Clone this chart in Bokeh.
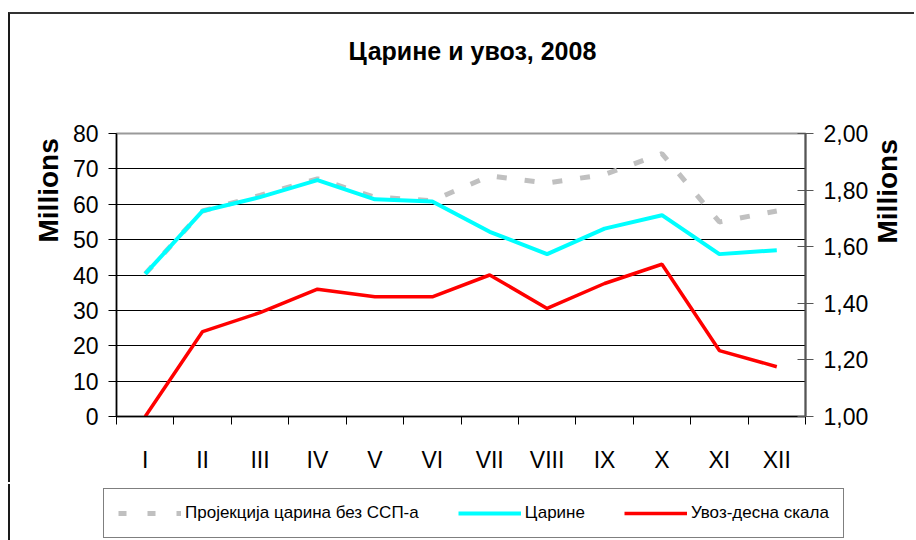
from bokeh.plotting import figure
from bokeh.models import (LinearAxis, Range1d, FixedTicker, CustomJSTickFormatter,
                          Legend, LegendItem, ColumnDataSource, Title)
from bokeh.embed import file_html
from bokeh.resources import INLINE

# ---- data ----
months = ["I", "II", "III", "IV", "V", "VI", "VII", "VIII", "IX", "X", "XI", "XII"]
carine = [40.3, 58.1, 62.0, 66.8, 61.4, 60.8, 52.2, 45.9, 53.1, 56.9, 45.9, 47.0]
projekcija = [40.3, 58.1, 62.5, 67.2, 62.0, 61.0, 68.0, 66.0, 68.4, 74.3, 55.0, 58.1]
uvoz = [1.00, 1.30, 1.367, 1.45, 1.423, 1.423, 1.50, 1.382, 1.47, 1.538, 1.233, 1.176]
left_ticks = [0, 10, 20, 30, 40, 50, 60, 70, 80]
grid_ticks = [10, 20, 30, 40, 50, 60, 70]
right_ticks = [1.0, 1.2, 1.4, 1.6, 1.8, 2.0]
title_text = "Царине и увоз, 2008"
axis_text = "Millions"
legend_labels = ["Пројекција царина без ССП-а", "Царине", "Увоз-десна скала"]

FONT = "Liberation Sans"
GREY, CYAN, RED = "#c0c0c0", "#00ffff", "#ff0000"

n = len(months)
xs = [i + 0.5 for i in range(n)]
bounds = [i for i in range(n + 1)]

src = ColumnDataSource(dict(x=xs, carine=carine, projekcija=projekcija, uvoz=uvoz))

p = figure(width=906, height=470, x_range=Range1d(0, n), y_range=Range1d(0, 80),
           output_backend="svg", toolbar_location=None, title=title_text,
           min_border_left=106, min_border_right=111, min_border_top=119,
           min_border_bottom=68)
p.styles = {"margin-top": "12px", "margin-left": "8px",
            "border-top": "2px solid #333333", "border-left": "2px solid #1a1a1a"}
p.background_fill_color = "white"
p.border_fill_color = "white"
p.outline_line_color = "#9a9a9a"
p.outline_line_width = 2

p.title.text_font = FONT
p.title.text_font_size = "25px"
p.title.text_font_style = "bold"
p.title.text_color = "black"
p.title.align = "left"
p.title.offset = 232
p.title.standoff = 10

# spacer between frame and title
p.add_layout(Title(text=" ", text_font_size="10px", standoff=51), "above")

p.extra_y_ranges = {"uvoz": Range1d(1.0, 2.0)}

# grid
p.xgrid.visible = False
p.ygrid.ticker = FixedTicker(ticks=grid_ticks)
p.ygrid.grid_line_color = "black"
p.ygrid.grid_line_width = 1

# x axis
xa = p.xaxis[0]
xa.ticker = FixedTicker(ticks=xs, minor_ticks=bounds)
xa.major_label_overrides = {x: m for x, m in zip(xs, months)}
xa.major_tick_out = 0
xa.major_tick_in = 0
xa.minor_tick_out = 8
xa.minor_tick_in = 0
xa.minor_tick_line_color = "black"
xa.axis_line_color = "black"
xa.axis_line_width = 1.5
xa.major_label_standoff = 22
xa.major_label_text_font = FONT
xa.major_label_text_font_size = "23px"
xa.major_label_text_color = "black"

# left axis
ya = p.yaxis[0]
ya.ticker = FixedTicker(ticks=left_ticks)
ya.major_tick_out = 8
ya.major_tick_in = 0
ya.minor_tick_out = 0
ya.minor_tick_in = 0
ya.axis_line_color = "black"
ya.axis_line_width = 1.5
ya.major_tick_line_color = "black"
ya.major_label_standoff = 10
ya.major_label_text_font = FONT
ya.major_label_text_font_size = "23px"
ya.major_label_text_color = "black"

# left "Millions" label as a side title (sits above the axis centre)
p.add_layout(Title(text=axis_text, align="left", offset=174, standoff=12,
                   text_font=FONT, text_font_size="28px", text_font_style="bold",
                   text_color="black"), "left")

# right axis
ra = LinearAxis(y_range_name="uvoz", ticker=FixedTicker(ticks=right_ticks),
                formatter=CustomJSTickFormatter(code="return tick.toFixed(2).replace('.', ',')"))
ra.major_tick_out = 8
ra.major_tick_in = 8
ra.minor_tick_out = 0
ra.minor_tick_in = 0
ra.axis_line_color = "#555555"
ra.axis_line_width = 2
ra.major_tick_line_color = "#555555"
ra.major_label_standoff = 10
ra.major_label_text_font = FONT
ra.major_label_text_font_size = "23px"
ra.major_label_text_color = "black"
p.add_layout(ra, "right")

# lines
p.line("x", "projekcija", source=src, line_color=GREY, line_width=5, line_dash="10 18")
p.line("x", "carine", source=src, line_color=CYAN, line_width=4)
p.line("x", "uvoz", source=src, line_color=RED, line_width=3.5, y_range_name="uvoz")

# ---- right "Millions" label (small root, text reading bottom-to-top) ----
r = figure(width=40, height=120, title=None, output_backend="svg",
           toolbar_location=None, x_axis_type=None, y_axis_type=None, min_border=0)
r.styles = {"position": "absolute", "left": "869px", "top": "123px"}
r.outline_line_color = None
r.xgrid.visible = False
r.ygrid.visible = False
r.background_fill_color = None
r.border_fill_color = None
r.add_layout(Title(text=axis_text, align="left", offset=0, standoff=0,
                   text_font=FONT, text_font_size="28px", text_font_style="bold",
                   text_color="black"), "left")

# ---- legend strip (separate root so the box is not clipped by the frame) ----
q = figure(width=906, height=56, x_range=Range1d(0, 1), y_range=Range1d(-2, -1),
           output_backend="svg", toolbar_location=None,
           x_axis_type=None, y_axis_type=None, min_border=0)
q.styles = {"position": "absolute", "top": "484px", "left": "8px",
            "border-left": "2px solid #1a1a1a"}
q.outline_line_color = None
q.xgrid.visible = False
q.ygrid.visible = False
q.background_fill_color = "white"
q.border_fill_color = "white"
lg_proj = q.line("x", "projekcija", source=src, line_color=GREY, line_width=5,
                 line_dash="8 21")
lg_car = q.line("x", "carine", source=src, line_color=CYAN, line_width=4)
lg_uvoz = q.line("x", "uvoz", source=src, line_color=RED, line_width=3.5)

legend = Legend(items=[LegendItem(label=legend_labels[0], renderers=[lg_proj]),
                       LegendItem(label=legend_labels[1], renderers=[lg_car]),
                       LegendItem(label=legend_labels[2], renderers=[lg_uvoz])],
                orientation="horizontal", location=(93, 2))
legend.label_text_font = FONT
legend.label_text_font_size = "17px"
legend.label_text_color = "black"
legend.glyph_width = 63
legend.glyph_height = 20
legend.label_standoff = 4
legend.spacing = 39
legend.padding = 14
legend.margin = 0
legend.border_line_color = "black"
legend.border_line_width = 1
legend.background_fill_alpha = 1
q.add_layout(legend, "center")

open("out.html", "w").write(file_html([p, q, r], INLINE))
